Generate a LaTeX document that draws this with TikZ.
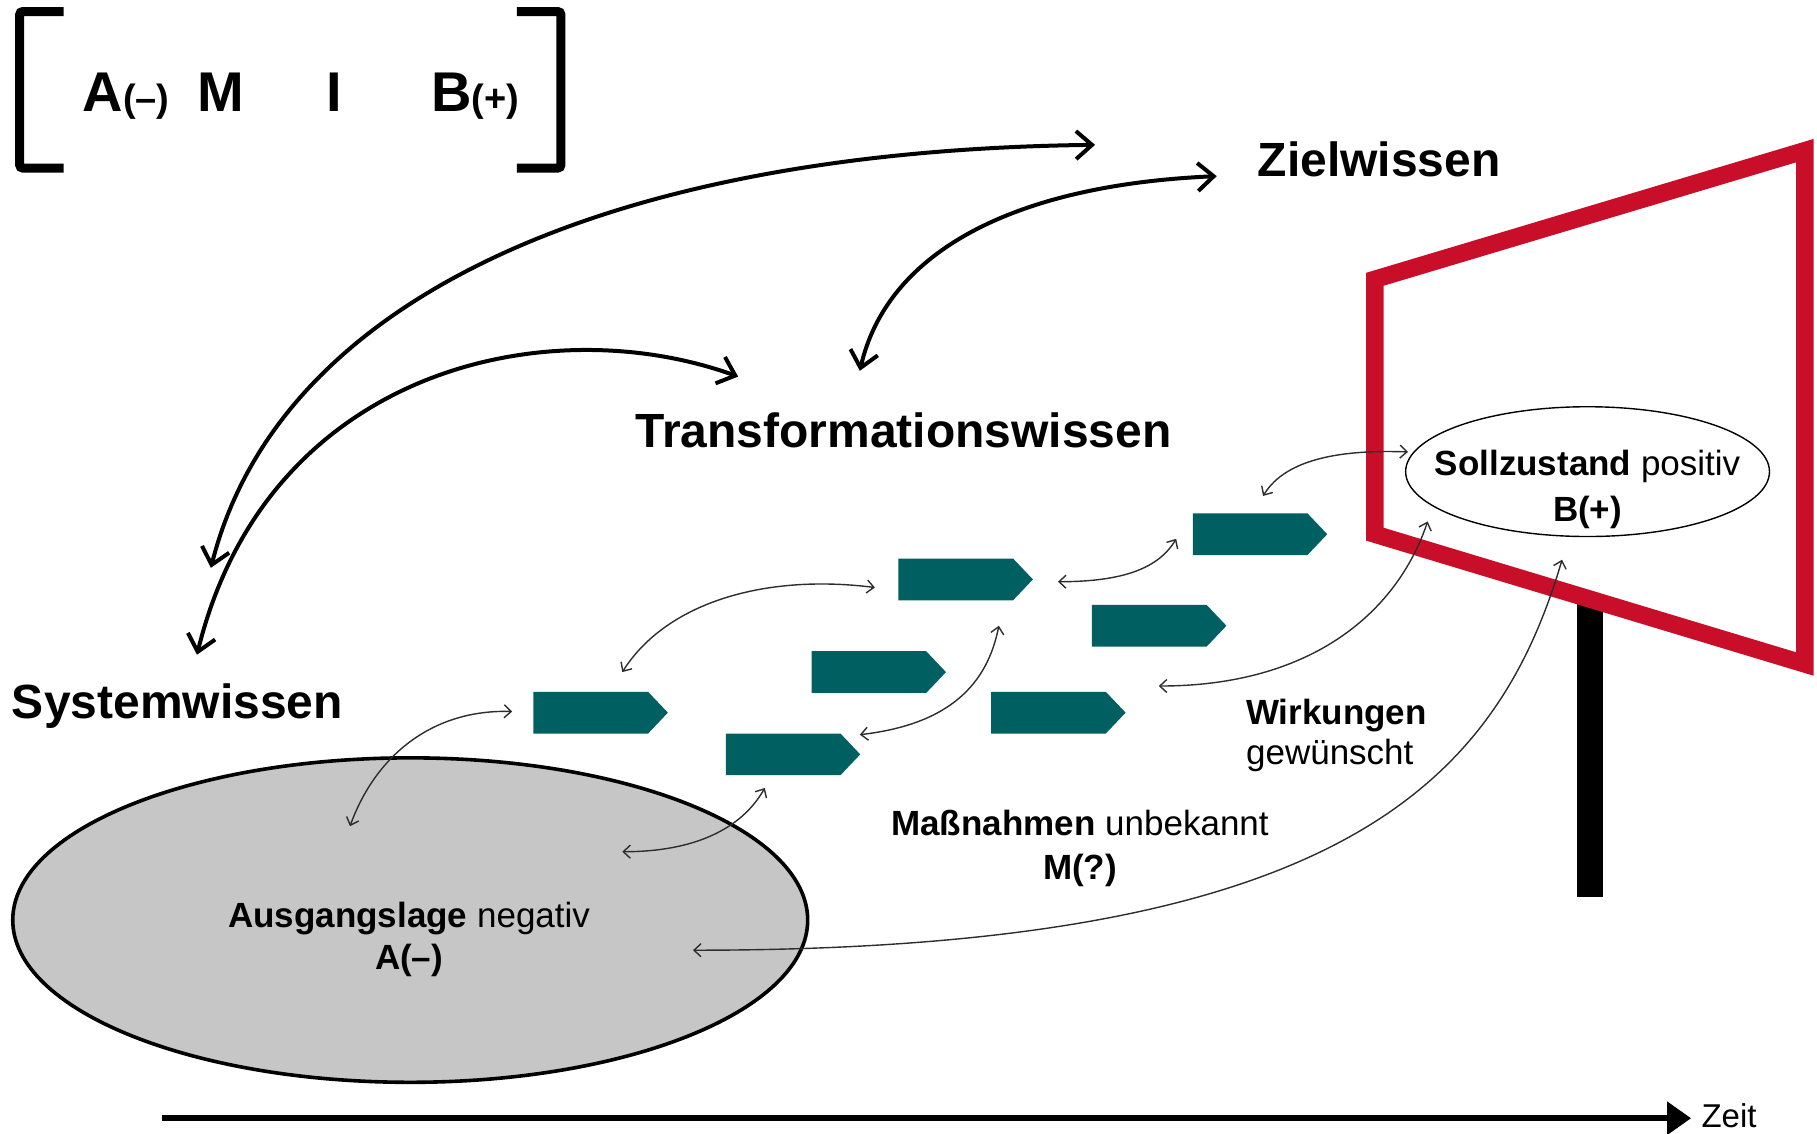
\documentclass[tikz,border=0pt]{standalone}
\usepackage{fontspec}
\setmainfont{Liberation Sans}
\usetikzlibrary{arrows.meta,shapes.symbols,shapes.geometric}

\definecolor{boxteal}{RGB}{0,95,97}
\definecolor{signred}{RGB}{200,14,40}
\definecolor{basegray}{RGB}{198,198,198}
\definecolor{linkgray}{RGB}{45,45,45}

\tikzset{
  bigarrow/.style={line width=2pt,
    {Straight Barb[length=8pt,width=14pt]}-{Straight Barb[length=8pt,width=14pt]}},
  linkarrow/.style={line width=0.7pt, draw=linkgray,
    {Straight Barb[length=3.5pt,width=6.5pt]}-{Straight Barb[length=3.5pt,width=6.5pt]}},
  massbox/.style={shape=signal, signal to=east, signal pointer angle=93,
    fill=boxteal, draw=none, inner sep=0pt, anchor=west,
    minimum width=116*0.5794pt, minimum height=36*0.5794pt},
  headtext/.style={inner sep=0pt, anchor=base west,
    font=\bfseries\fontsize{24}{28}\selectfont},
  bodytext/.style={inner sep=0pt, anchor=base,
    font=\fontsize{17.5}{21}\selectfont},
  bracktext/.style={inner sep=0pt, anchor=base west,
    font=\bfseries\fontsize{28}{32}\selectfont},
  bracketline/.style={line width=4.5pt, rounded corners=1.5pt},
}

\begin{document}
\begin{tikzpicture}[x=0.5794pt,y=-0.5794pt]
\useasboundingbox (0,0) rectangle (1568,978);

% ---- formula in brackets
\draw[bracketline] (55,10) -- (17,10) -- (17,145) -- (55,145);
\draw[bracketline] (446,10) -- (484,10) -- (484,145) -- (446,145);
\node[bracktext] (fa) at (71,96.5) {A{\fontsize{19}{22}\selectfont(–)}};
\node[bracktext] (fm) at (170,96.5) {M};
\node[bracktext] (fi) at (281,96.5) {I};
\node[bracktext] (fb) at (372,96.5) {B{\fontsize{19}{22}\selectfont(+)}};

% ---- initial situation
\node[ellipse, draw=black, fill=basegray, line width=1.8pt, inner sep=0pt,
      minimum width=686*0.5794pt, minimum height=280*0.5794pt] (ausg) at (354,794) {};
\node[bodytext] (ausgtxt) at (353,800) {\textbf{Ausgangslage} negativ};
\node[bodytext] (ausgsym) at (353,837) {\textbf{A(–)}};

% ---- target sign: post and red frame
\fill (1361,520) rectangle (1383,774);
\draw[signred, line width=8.7pt, line join=miter]
  (1186.5,241) -- (1557.5,130) -- (1557.5,573) -- (1186.5,461) -- cycle;
\node[ellipse, draw=black, line width=0.7pt, inner sep=0pt,
      minimum width=314*0.5794pt, minimum height=112*0.5794pt] (soll) at (1370,407) {};
\node[bodytext] (solltxt) at (1370,410) {\textbf{Sollzustand} positiv};
\node[bodytext] (sollsym) at (1370,450) {\textbf{B(+)}};

% ---- measures
\node[massbox] (m1) at (460,615) {};
\node[massbox] (m2) at (626,651) {};
\node[massbox] (m3) at (700,580) {};
\node[massbox] (m4) at (775,500) {};
\node[massbox] (m5) at (855,615) {};
\node[massbox] (m6) at (942,540) {};
\node[massbox] (m7) at (1029,461) {};

% ---- knowledge labels
\node[headtext] (ziel) at (1085,152) {Zielwissen};
\node[headtext] (trans) at (548,386) {Transformationswissen};
\node[headtext] (sys) at (10,620) {Systemwissen};

\node[bodytext] (masstxt) at (932,721) {\textbf{Maßnahmen} unbekannt};
\node[bodytext] (masssym) at (932,759) {\textbf{M(?)}};
\node[bodytext, anchor=base west] (wirk) at (1075,625) {\textbf{Wirkungen}};
\node[bodytext, anchor=base west] (wirk2) at (1075,660) {gewünscht};

% ---- end points of the connectors
\coordinate (s1) at (182,490);  \coordinate (z1) at (945,125);
\coordinate (s2) at (170,565);  \coordinate (t2) at (637,325);
\coordinate (t3) at (742,320);  \coordinate (z3) at (1050,152);
\coordinate (a1) at (302,713);  \coordinate (b1) at (442,614);
\coordinate (a2) at (537,580);  \coordinate (b2) at (755,507);
\coordinate (a3) at (537,735);  \coordinate (b3) at (660,680);
\coordinate (a4) at (742,634);  \coordinate (b4) at (862,540);
\coordinate (a5) at (913,502);  \coordinate (b5) at (1015,465);
\coordinate (a6) at (1090,428); \coordinate (b6) at (1215,390);
\coordinate (a7) at (1000,592); \coordinate (b7) at (1232,450);
\coordinate (a8) at (598,820);  \coordinate (b8) at (1348,483);

% ---- knowledge arcs
\draw[bigarrow] (s1) .. controls (240,260) and (520,130) .. (z1);
\draw[bigarrow] (s2) .. controls (230,320) and (470,265) .. (t2);
\draw[bigarrow] (t3) .. controls (765,220) and (870,160) .. (z3);

% ---- links between situation, measures and target
\draw[linkarrow] (a1) .. controls (325,650) and (375,612) .. (b1);
\draw[linkarrow] (a2) .. controls (575,520) and (660,495) .. (b2);
\draw[linkarrow] (a3) .. controls (600,735) and (640,715) .. (b3);
\draw[linkarrow] (a4) .. controls (820,625) and (852,590) .. (b4);
\draw[linkarrow] (a5) .. controls (970,502) and (1000,490) .. (b5);
\draw[linkarrow] (a6) .. controls (1110,395) and (1160,388) .. (b6);
\draw[linkarrow] (a7) .. controls (1130,592) and (1205,530) .. (b7);
\draw[linkarrow] (a8) .. controls (1150,820) and (1290,680) .. (b8);

% ---- time axis
\coordinate (tstart) at (140,965);
\node[inner sep=0pt, anchor=base west, font=\fontsize{16.5}{19}\selectfont] (zeit) at (1468,973) {Zeit};
\draw[line width=3pt, -{Triangle[length=12pt,width=16pt]}, shorten >=5pt]
  (tstart) -- (tstart -| zeit.west);
\end{tikzpicture}
\end{document}
